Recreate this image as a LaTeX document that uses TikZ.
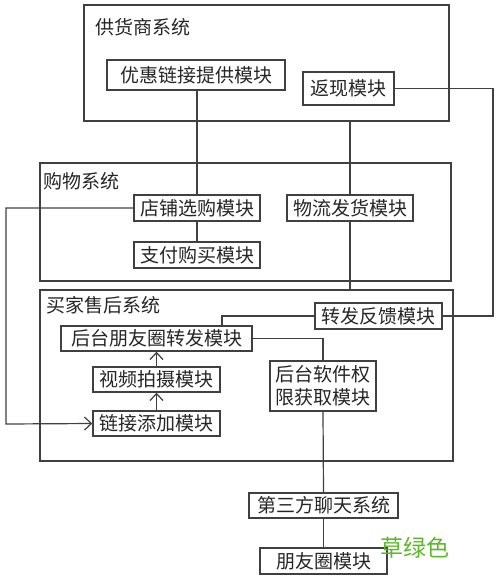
\documentclass[tikz,border=0pt]{standalone}
\usepackage{fontspec}
\newfontfamily\cjk{Noto Sans CJK SC}
\usetikzlibrary{arrows.meta}
\definecolor{ln}{HTML}{404040}
\definecolor{grass}{HTML}{5CB82A}
\tikzset{
  sysbox/.style={draw=ln, line width=1.4pt, inner sep=0pt},
  mod/.style={draw=ln, line width=1.4pt, inner sep=0pt, font=\cjk\fontsize{19}{23}\selectfont, text=black!85},
  syslabel/.style={anchor=west, inner sep=0pt, font=\cjk\fontsize{19}{23}\selectfont, text=black!85},
  conn/.style={draw=ln, line width=1.2pt},
  arr/.style={conn, -{Straight Barb[length=7pt,width=13pt,line width=1.2pt]}}
}
\begin{document}
\begin{tikzpicture}[x=1pt,y=-1pt]
\useasboundingbox[fill=white] (0,0) rectangle (500,581);
% system boxes
\node[sysbox, minimum width=365pt, minimum height=116pt] (sup) at (266.5,63) {};
\node[syslabel] (supl) at (95,27) {供货商系统};
\node[sysbox, minimum width=411pt, minimum height=118pt] (shop) at (245.5,222) {};
\node[syslabel] (shopl) at (43,181) {购物系统};
\node[sysbox, minimum width=413pt, minimum height=171pt] (buy) at (246.5,375.5) {};
\node[syslabel] (buyl) at (46,305) {买家售后系统};
% modules
\node[mod, minimum width=178pt, minimum height=30pt] (yh) at (196,75) {优惠链接提供模块};
\node[mod, minimum width=91pt, minimum height=33pt] (fx) at (348.5,88.5) {返现模块};
\node[mod, minimum width=126pt, minimum height=26pt] (dp) at (197,208) {店铺选购模块};
\node[mod, minimum width=126pt, minimum height=26pt] (wl) at (350,208) {物流发货模块};
\node[mod, minimum width=126pt, minimum height=26pt] (zf) at (197,255) {支付购买模块};
\node[mod, minimum width=127pt, minimum height=26pt] (zffk) at (378.5,316) {转发反馈模块};
\node[mod, minimum width=191pt, minimum height=25pt] (htp) at (156.5,338.5) {后台朋友圈转发模块};
\node[mod, minimum width=127pt, minimum height=25pt] (sp) at (156.5,379.5) {视频拍摄模块};
\node[mod, minimum width=127pt, minimum height=25pt] (lj) at (156.5,423.5) {链接添加模块};
\node[mod, minimum width=106pt, minimum height=50pt, align=center] (rj) at (323,386) {后台软件权\\限获取模块};
\node[mod, minimum width=149pt, minimum height=25pt] (dsf) at (323.5,505.5) {第三方聊天系统};
\node[mod, minimum width=127pt, minimum height=26pt] (pyq) at (323.5,561) {朋友圈模块};
\node[inner sep=0pt, font=\cjk\fontsize{23}{26}\selectfont, text=grass] (green) at (415,548) {草绿色};
% helper coordinates
\coordinate (rr) at (493,316);
\coordinate (ll) at (6,424);
\coordinate (k1) at (222,326);
% connectors
\draw[conn] (yh.south -| dp.north) -- (dp.north);
\draw[conn] (sup.south -| wl.north) -- (wl.north);
\draw[conn] (dp.south) -- (zf.north);
\draw[conn] (wl.south) -- (wl.south |- buy.north);
\draw[conn] (fx.east) -| (rr) -- (zffk.east);
\draw[arr] (dp.west) -| (ll) -- (lj.west);
\draw[conn] (zffk.west) -| (k1);
\draw[conn] (htp.east) -| (rj.north);
\draw[arr] (lj.north) -- (sp.south);
\draw[arr] (sp.north) -- (htp.south);
\draw[conn] (rj.south) -- (dsf.north);
\draw[conn] (dsf.south) -- (pyq.north);
\end{tikzpicture}
\end{document}
